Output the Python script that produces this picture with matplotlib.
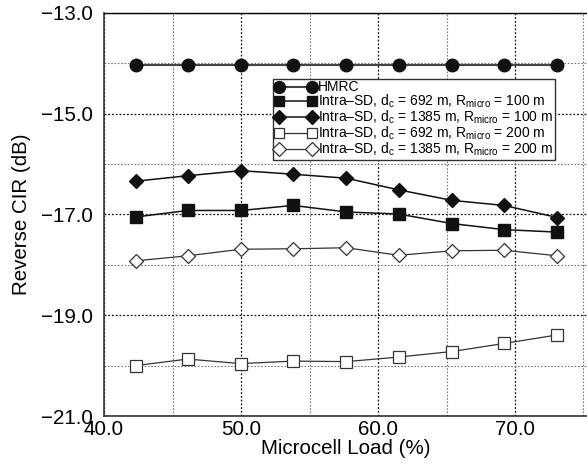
import matplotlib
matplotlib.use("Agg")
import matplotlib.pyplot as plt
from matplotlib.ticker import FixedLocator, FuncFormatter

plt.rcParams['font.family'] = ['Liberation Sans', 'DejaVu Sans']
plt.rcParams['mathtext.fontset'] = 'custom'
plt.rcParams['mathtext.rm'] = 'Liberation Sans'
plt.rcParams['mathtext.it'] = 'Liberation Sans:italic'
plt.rcParams['mathtext.bf'] = 'Liberation Sans:bold'

load = [42.3, 46.1, 50.0, 53.8, 57.7, 61.5, 65.4, 69.2, 73.1]
hmrc = [-14.03] * 9
sd692_100 = [-17.05, -16.92, -16.92, -16.82, -16.95, -16.99, -17.18, -17.30, -17.35]
sd1385_100 = [-16.34, -16.23, -16.13, -16.20, -16.28, -16.51, -16.72, -16.82, -17.06]
sd692_200 = [-20.00, -19.87, -19.96, -19.91, -19.92, -19.83, -19.72, -19.56, -19.39]
sd1385_200 = [-17.92, -17.82, -17.69, -17.68, -17.66, -17.81, -17.72, -17.71, -17.82]

labels = [
    "HMRC",
    r"Intra–SD, d$_\mathrm{c}$ = 692 m, R$_\mathrm{micro}$ = 100 m",
    r"Intra–SD, d$_\mathrm{c}$ = 1385 m, R$_\mathrm{micro}$ = 100 m",
    r"Intra–SD, d$_\mathrm{c}$ = 692 m, R$_\mathrm{micro}$ = 200 m",
    r"Intra–SD, d$_\mathrm{c}$ = 1385 m, R$_\mathrm{micro}$ = 200 m",
]
xticks = [40.0, 50.0, 60.0, 70.0]
yticks = [-21.0, -19.0, -17.0, -15.0, -13.0]

fig = plt.figure(figsize=(5.87, 4.68), dpi=100)
ax = fig.add_axes([104/587, 1-416/468, 1-104/587, 403/468])

ax.plot(load, hmrc, color='#444444', lw=1.5, marker='o', ms=9, mfc='#111111', mec='#111111', label=labels[0], zorder=5)
ax.plot(load, sd692_100, color='#111111', lw=1.1, marker='s', ms=8, mfc='#111111', mec='#111111', label=labels[1], zorder=5)
ax.plot(load, sd1385_100, color='#111111', lw=1.1, marker='D', ms=7, mfc='#111111', mec='#111111', label=labels[2], zorder=5)
ax.plot(load, sd692_200, color='#333333', lw=0.9, marker='s', ms=8, mfc='white', mec='#333333', mew=0.9, label=labels[3], zorder=5)
ax.plot(load, sd1385_200, color='#333333', lw=0.9, marker='D', ms=7, mfc='white', mec='#333333', mew=0.9, label=labels[4], zorder=5)

fmt = FuncFormatter(lambda v, p: ("%.1f" % v).replace('-', '\u2212'))
ax.set_xlim(40, 40 + 483/13.7)
ax.set_ylim(-21, -13)
ax.xaxis.set_major_locator(FixedLocator(xticks))
ax.yaxis.set_major_locator(FixedLocator(yticks))
ax.xaxis.set_minor_locator(FixedLocator([45, 55, 65, 75]))
ax.yaxis.set_minor_locator(FixedLocator([-20, -18, -16, -14]))
ax.xaxis.set_major_formatter(fmt)
ax.yaxis.set_major_formatter(fmt)
ax.grid(which='major', color='#111111', linestyle=(0, (1.5, 1.5)), lw=0.9)
ax.grid(which='minor', color='#777777', linestyle=(0, (1.5, 1.5)), lw=0.8)
ax.tick_params(which='both', length=0, labelsize=14.8)
ax.tick_params(axis='y', pad=8)
ax.tick_params(axis='x', pad=3)
ax.spines['right'].set_visible(False)
for s in ['left', 'bottom']:
    ax.spines[s].set_color('#333333')
    ax.spines[s].set_linewidth(1.2)
ax.spines['top'].set_color('black')
ax.spines['top'].set_linewidth(1.0)

ax.set_xlabel("Microcell Load (%)", fontsize=14.8, labelpad=0)
ax.set_ylabel("Reverse CIR (dB)", fontsize=14.8, labelpad=7)

leg = ax.legend(loc='upper left', bbox_to_anchor=(273/587, 1-79/468), bbox_transform=fig.transFigure,
                fontsize=10, frameon=True, fancybox=False, edgecolor='#333333', framealpha=1,
                borderaxespad=0, borderpad=0.1, labelspacing=-0.1, handlelength=3.0,
                handletextpad=0.15, numpoints=2, markerscale=0.95)
leg.get_frame().set_linewidth(1.0)

fig.savefig("out.png", dpi=100)
